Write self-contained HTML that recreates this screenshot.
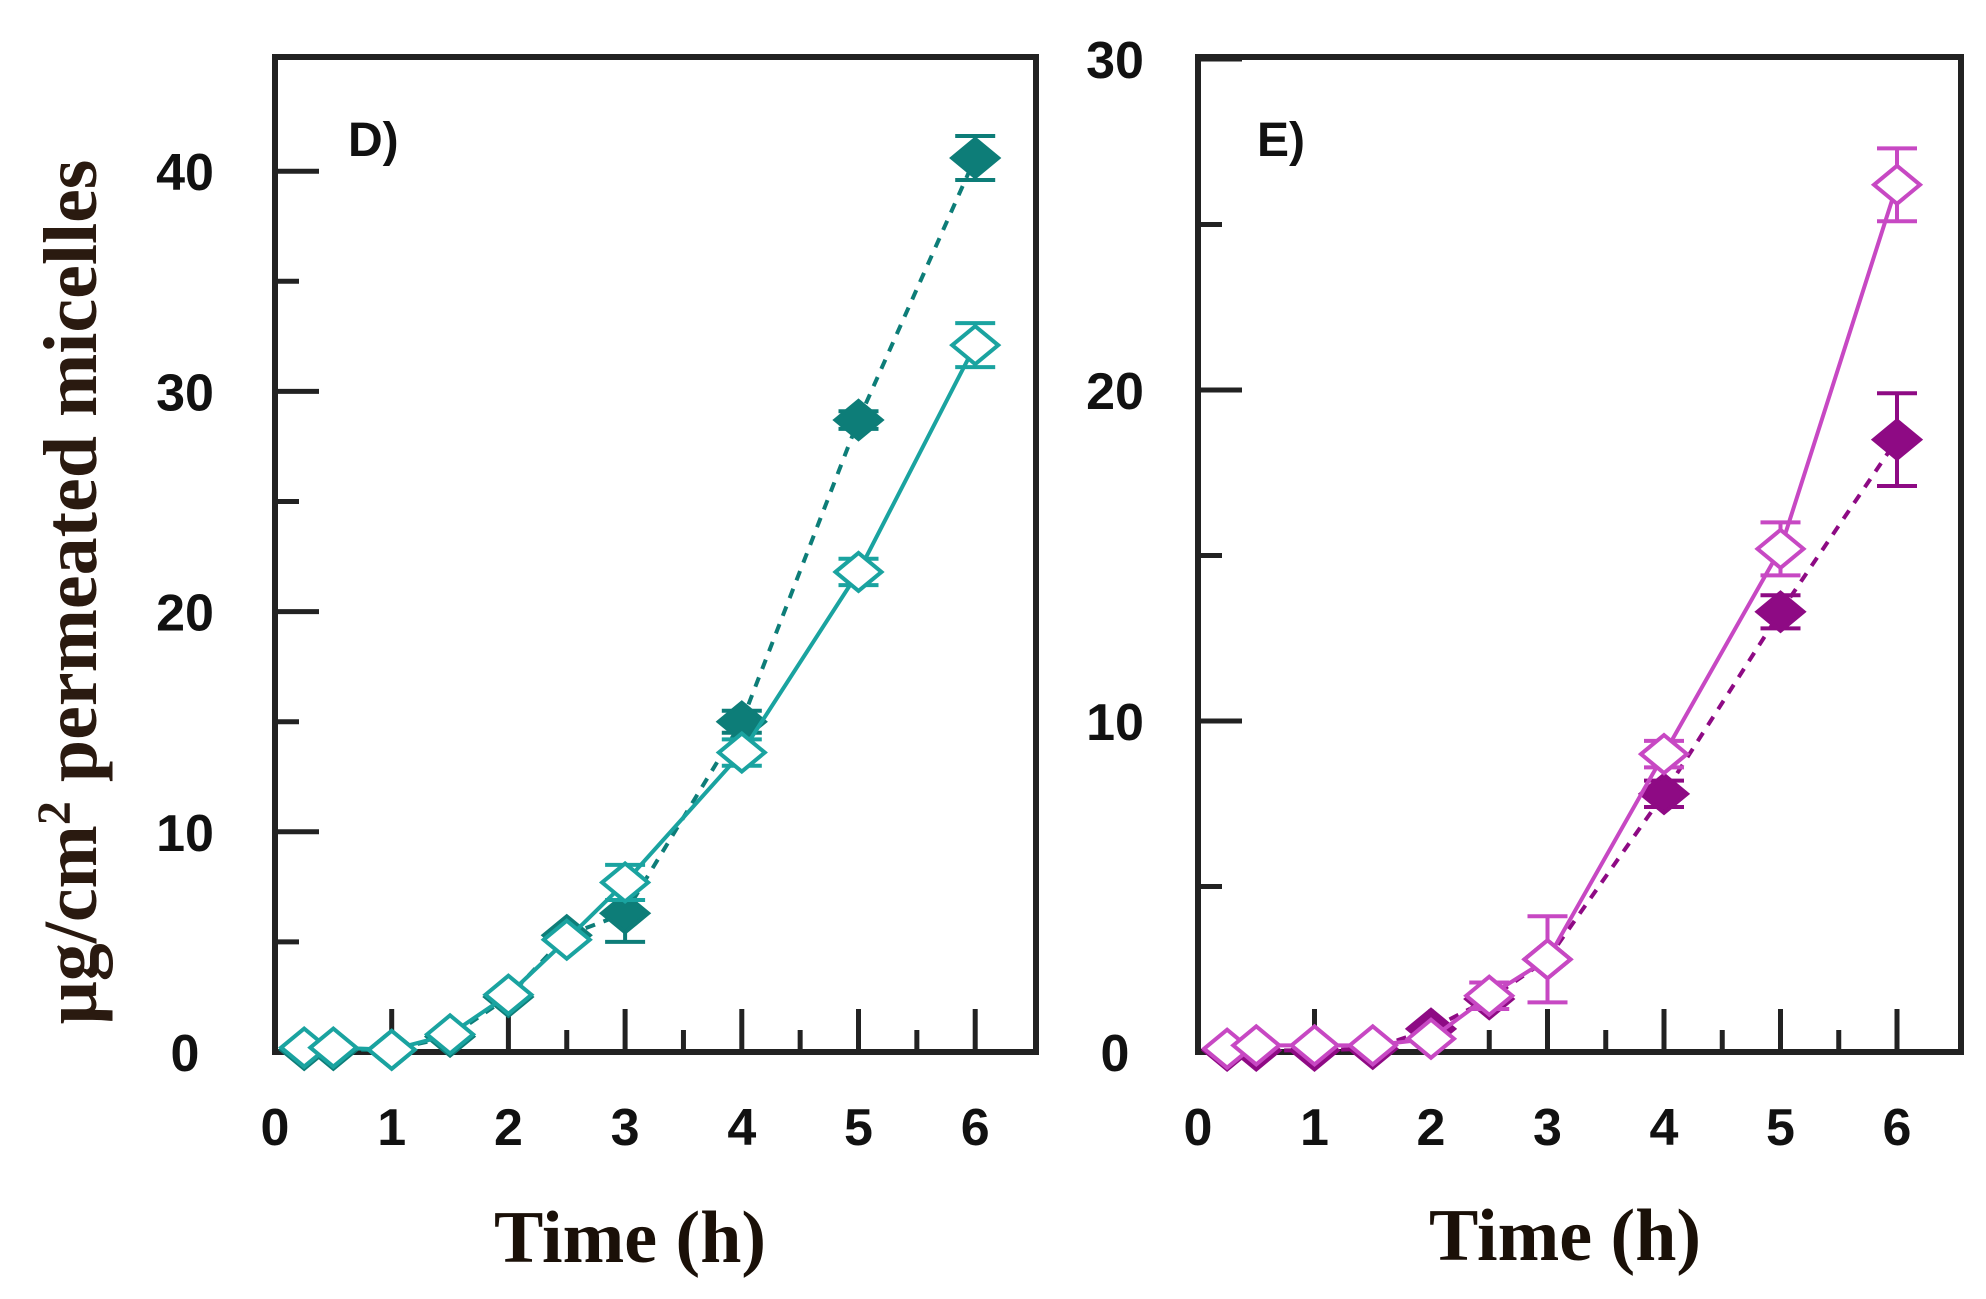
<!DOCTYPE html>
<html><head><meta charset="utf-8"><style>
html,body{margin:0;padding:0;background:#fff;width:1986px;height:1299px;overflow:hidden}
svg{display:block}
</style></head><body>
<svg id="s" width="1986" height="1299" xmlns="http://www.w3.org/2000/svg" font-family="Liberation Sans, sans-serif">
<text x="96" y="592" transform="rotate(-90 96 592)" text-anchor="middle" font-family="Liberation Serif, serif" font-weight="bold" font-size="76" fill="#2a1a10">μg/cm<tspan dy="-26" font-size="48">2</tspan><tspan dy="26"> permeated micelles</tspan></text>
<text x="630" y="1262" text-anchor="middle" font-family="Liberation Serif, serif" font-weight="bold" font-size="74" fill="#1a1008">Time (h)</text>
<text x="1565" y="1260" text-anchor="middle" font-family="Liberation Serif, serif" font-weight="bold" font-size="74" fill="#1a1008">Time (h)</text>
</svg>
<script>
const s=document.getElementById('s');const NS='http://www.w3.org/2000/svg';
function el(t,a){const e=document.createElementNS(NS,t);for(const k in a)e.setAttribute(k,a[k]);s.appendChild(e);return e;}
function txt(x,y,t,a){const e=el('text',Object.assign({x:x,y:y,'font-weight':'bold','font-size':52,fill:'#111','text-anchor':'middle'},a||{}));e.textContent=t;return e;}
function panel(o){
 const X=t=>o.x0+t*o.px, Y=v=>o.y0-v*o.py;
 for(let v=0;v<=o.ymax;v+=o.minor){const maj=Math.abs(v/o.major-Math.round(v/o.major))<1e-6;
  el('line',{x1:o.L,x2:o.L+(maj?44:24),y1:Y(v),y2:Y(v),stroke:'#222','stroke-width':5});
  if(maj)txt(o.lx,Y(v)+19,String(v),{'text-anchor':'middle'});}
 for(let t=0.5;t<=6;t+=0.5){const maj=t%1==0;
  el('line',{x1:X(t),x2:X(t),y1:o.B,y2:o.B-(maj?43:22),stroke:'#222','stroke-width':5});}
 for(let t=0;t<=6;t++)txt(X(t),1145,String(t));
 el('rect',{x:o.L,y:o.T,width:o.R-o.L,height:o.B-o.T,fill:'none',stroke:'#222','stroke-width':6});
 txt(o.lab[0],o.lab[1],o.lab[2],{'font-size':48,'text-anchor':'start'});
 function series(d,col,dash,fill){
  let p=d.map(q=>X(q[0])+','+Y(q[1])).join(' ');
  const a={points:p,fill:'none',stroke:col,'stroke-width':4};if(dash)a['stroke-dasharray']='10,9';
  el('polyline',a);
  d.forEach(q=>{const x=X(q[0]),y=Y(q[1]);
   if(q[2]){const e=q[2];el('line',{x1:x,x2:x,y1:Y(q[1]-e),y2:Y(q[1]+e),stroke:col,'stroke-width':4});
    [q[1]-e,q[1]+e].forEach(v=>el('line',{x1:x-20,x2:x+20,y1:Y(v),y2:Y(v),stroke:col,'stroke-width':4}));}
   el('polygon',{points:`${x-23},${y} ${x},${y-19} ${x+23},${y} ${x},${y+19}`,fill:fill?col:'#fff',stroke:col,'stroke-width':4});});
 }
 series(o.filled,o.c2,true,true);series(o.open,o.c1,false,false);
}
panel({L:275,R:1036,T:57,B:1052,x0:275,px:116.7,y0:1052,py:22.02,ymax:40,major:10,minor:5,lx:185,lab:[348,156,'D)'],
 c1:'#1aa3a0',c2:'#0d7d78',
 open:[[.25,.2],[.5,.2],[1,.1],[1.5,.8],[2,2.6],[2.5,5.1],[3,7.7,.8],[4,13.6,.6],[5,21.8,.6],[6,32.1,1]],
 filled:[[.25,.1],[.5,.1],[1,.1],[1.5,.7],[2,2.5],[2.5,5.3],[3,6.3,1.3],[4,15,.5],[5,28.7,.4],[6,40.6,1]]});
panel({L:1198,R:1961,T:57,B:1052,x0:1198,px:116.5,y0:1052,py:33.1,ymax:30,major:10,minor:5,lx:1115,lab:[1257,156,'E)'],
 c1:'#c748c3',c2:'#8e0a84',
 open:[[.25,.1],[.5,.2],[1,.2],[1.5,.2],[2,.4],[2.5,1.7,.4],[3,2.8,1.3],[4,9,.4],[5,15.2,.8],[6,26.2,1.1]],
 filled:[[.25,.05],[.5,.05],[1,.05],[1.5,.1],[2,.7],[2.5,1.6],[3,2.8],[4,7.8,.4],[5,13.3,.5],[6,18.5,1.4]]});
</script>
</body></html>
